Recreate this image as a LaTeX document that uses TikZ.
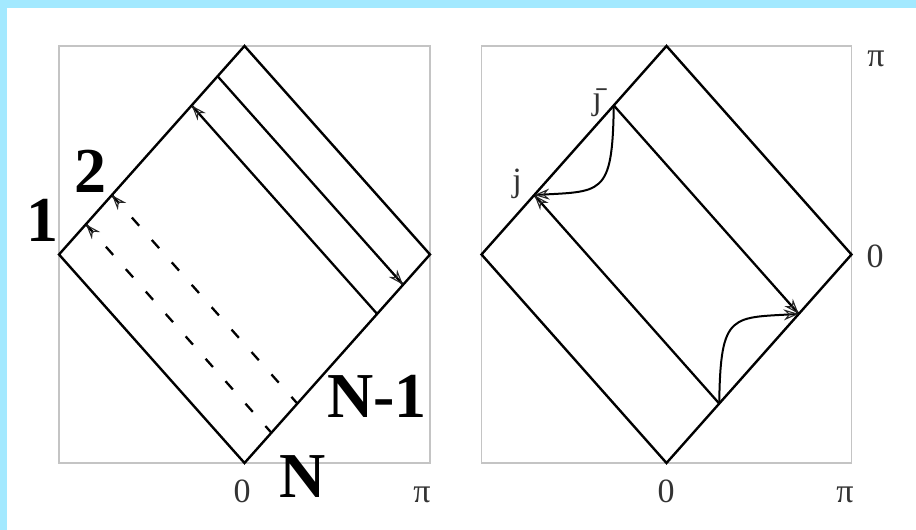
\documentclass[tikz,border=0pt]{standalone}
\usepackage{fontspec}
\setmainfont{Liberation Serif}
\usetikzlibrary{arrows.meta,decorations.markings,calc}
\definecolor{cyanband}{RGB}{163,233,255}
\definecolor{boxgray}{RGB}{196,196,196}
\begin{document}
\begin{tikzpicture}[x=1pt,y=1pt,
  frame/.style={draw=boxgray,line width=1.7pt},
  edge/.style={draw=black,line width=2.4pt,line join=miter},
  ray/.style={draw=black,line width=2.3pt},
  dashray/.style={ray,dash pattern=on 11pt off 19pt,dash phase=2pt},
  tipend/.style={postaction={decorate},decoration={markings,mark=at position 0.999 with {\arrow[line width=1.1pt,black!85]{Stealth[open,length=15pt,width=11pt,inset=5pt]}}}},
  big/.style={font=\fontsize{64}{70}\selectfont\bfseries,inner sep=0pt,anchor=base},
  small/.style={font=\fontsize{34}{38}\selectfont,text=black!80,inner sep=0pt,anchor=base}
]
\useasboundingbox (0,0) rectangle (916,530);
\fill[cyanband] (0,522) rectangle (916,530);
\fill[cyanband] (0,0) rectangle (7,530);

% ---------- left panel ----------
\begin{scope}[xshift=244.5pt,yshift=275.5pt,x=185.5pt,y=208.5pt]
  \draw[frame] (-1,-1) rectangle (1,1);
  \coordinate (Ltop) at (0,1);
  \coordinate (Lright) at (1,0);
  \coordinate (Lbot) at (0,-1);
  \coordinate (Lleft) at (-1,0);
  \draw[edge] (Ltop) -- (Lright) -- (Lbot) -- (Lleft) -- cycle;
  \coordinate (La1) at (-0.145,0.855);
  \coordinate (La2) at (0.855,-0.145);
  \coordinate (Lb1) at (-0.285,0.715);
  \coordinate (Lb2) at (0.715,-0.285);
  \coordinate (Lc1) at (-0.715,0.285);
  \coordinate (Lc2) at (0.285,-0.715);
  \coordinate (Ld1) at (-0.855,0.145);
  \coordinate (Ld2) at (0.145,-0.855);
  \draw[ray,tipend] (La1) -- (La2);
  \draw[ray,tipend] (Lb2) -- (Lb1);
  \draw[dashray,tipend] (Lc2) -- (Lc1);
  \draw[dashray,tipend] (Ld2) -- (Ld1);
\end{scope}

\node[big] (one) at (42,288) {1};
\node[big] (two) at (90,337) {2};
\node[big] (nm1) at (377,112) {N-1};
\node[big] (nn) at (303,32) {N};
\node[small] (l0) at (242,27) {0};
\node[small] (lpi) at (422,27) {π};

% ---------- right panel ----------
\begin{scope}[xshift=666.5pt,yshift=275.5pt,x=185pt,y=208.5pt]
  \draw[frame] (-1,-1) rectangle (1,1);
  \coordinate (Rtop) at (0,1);
  \coordinate (Rright) at (1,0);
  \coordinate (Rbot) at (0,-1);
  \coordinate (Rleft) at (-1,0);
  \draw[edge] (Rtop) -- (Rright) -- (Rbot) -- (Rleft) -- cycle;
  \coordinate (jbar) at (-0.285,0.715);
  \coordinate (Re2) at (0.715,-0.285);
  \coordinate (j) at (-0.715,0.285);
  \coordinate (Rf2) at (0.285,-0.715);
  \draw[ray,tipend] (jbar) -- (Re2);
  \draw[ray,tipend] (Rf2) -- (j);
  \draw[ray,line width=2pt,tipend] (jbar) .. controls (-0.292,0.27) and (-0.35,0.305) .. (j);
  \draw[ray,line width=2pt,tipend] (Rf2) .. controls (0.292,-0.27) and (0.35,-0.305) .. (Re2);
\end{scope}

\node[small] (r0) at (666,27) {0};
\node[small] (rpi) at (845,27) {π};
\node[small] (rmid0) at (875,262) {0};
\node[small] (rtoppi) at (876,463) {π};
\node[small] (jlab) at (517,338) {j};
\node[small] (jbarlab) at (597,420) {\={\j}};
\end{tikzpicture}
\end{document}
